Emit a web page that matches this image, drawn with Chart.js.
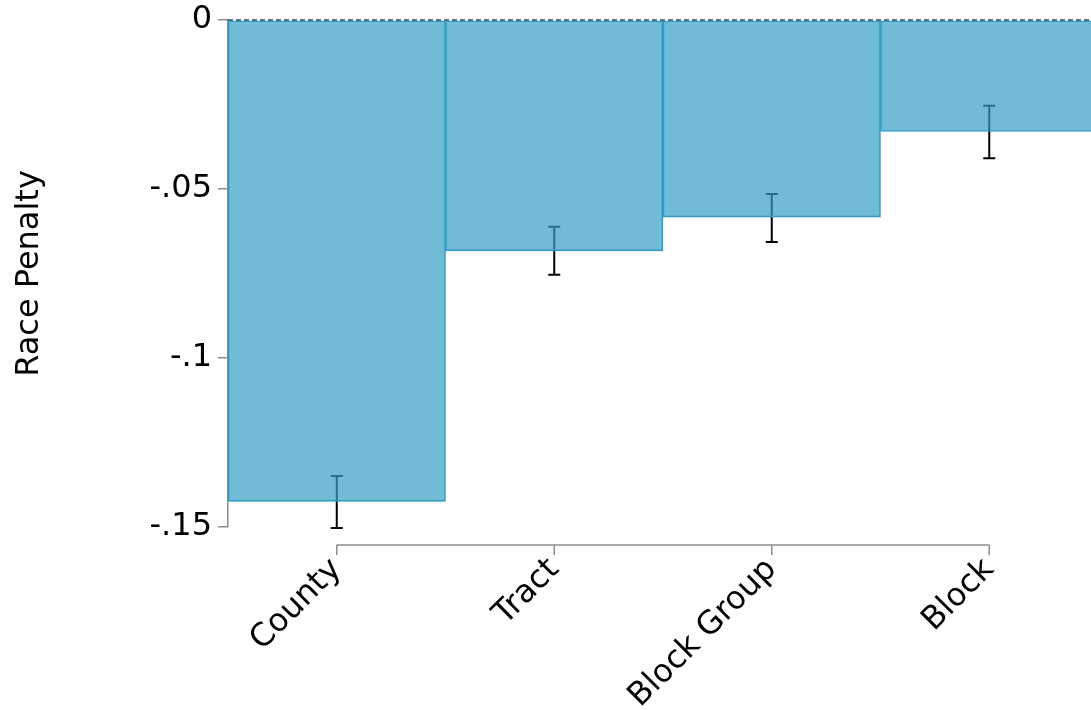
<!DOCTYPE html>
<html>
<head>
<meta charset="utf-8">
<script src="https://cdn.jsdelivr.net/npm/chart.js@4/dist/chart.umd.min.js"></script>
<style>
html,body{margin:0;padding:0;overflow:hidden;background:#fff;}
#wrap{width:1098px;height:710px;position:relative;}
</style>
</head>
<body>
<div id="wrap"><canvas id="c"></canvas></div>
<script>
const categories = ['County', 'Tract', 'Block Group', 'Block'];
const penalty = [-0.1424, -0.0683, -0.0583, -0.0330];
const ciLow = [-0.1503, -0.0754, -0.0657, -0.0409];
const ciHigh = [-0.1349, -0.0612, -0.0515, -0.0254];
const yTicks = [0, -0.05, -0.1, -0.15];
const yTickLabels = ['0', '-.05', '-.1', '-.15'];

const FONT = "'DejaVu Sans', sans-serif";

const errorBars = {
  id: 'errorBars',
  beforeDatasetsDraw(chart) {
    const ctx = chart.ctx, y = chart.scales.y, x = chart.scales.x;
    ctx.save();
    ctx.strokeStyle = '#000';
    ctx.lineWidth = 2;
    for (let i = 0; i < categories.length; i++) {
      const px = x.getPixelForValue(i);
      const y1 = y.getPixelForValue(ciHigh[i]);
      const y2 = y.getPixelForValue(ciLow[i]);
      ctx.beginPath();
      ctx.moveTo(px, y1); ctx.lineTo(px, y2);
      ctx.moveTo(px - 6, y1); ctx.lineTo(px + 6, y1);
      ctx.moveTo(px - 6, y2); ctx.lineTo(px + 6, y2);
      ctx.stroke();
    }
    ctx.restore();
  },
  afterDatasetsDraw(chart) {
    const ctx = chart.ctx, y = chart.scales.y, a = chart.chartArea;
    ctx.save();
    const y0 = y.getPixelForValue(0);
    ctx.strokeStyle = '#2f4f5f';
    ctx.lineWidth = 1.5;
    ctx.setLineDash([5, 3]);
    ctx.beginPath();
    ctx.moveTo(a.left, y0); ctx.lineTo(a.right, y0);
    ctx.stroke();
    ctx.restore();
  },
  afterDraw(chart) {
    const ctx = chart.ctx, x = chart.scales.x, a = chart.chartArea;
    ctx.save();
    ctx.strokeStyle = '#8c8c8c';
    ctx.lineWidth = 1.5;
    const ly = a.bottom + 18;
    const first = x.getPixelForValue(0), last = x.getPixelForValue(categories.length - 1);
    ctx.beginPath();
    ctx.moveTo(first, ly); ctx.lineTo(last, ly);
    for (let i = 0; i < categories.length; i++) {
      const px = x.getPixelForValue(i);
      ctx.moveTo(px, ly); ctx.lineTo(px, ly + 10);
    }
    ctx.stroke();
    ctx.restore();
  }
};

new Chart(document.getElementById('c'), {
  type: 'bar',
  data: {
    labels: categories,
    datasets: [{
      data: penalty,
      backgroundColor: 'rgba(54,158,196,0.7)',
      borderColor: 'rgb(38,156,196)',
      borderWidth: 1,
      borderSkipped: false,
      barPercentage: 1,
      categoryPercentage: 1
    }]
  },
  options: {
    responsive: true,
    maintainAspectRatio: false,
    animation: false,
    layout: { padding: { top: 20, right: 0, left: 10, bottom: 0 } },
    plugins: { legend: { display: false }, tooltip: { enabled: false } },
    scales: {
      x: {
        grid: { display: false },
        border: { display: false },
        ticks: {
          color: '#000',
          font: { family: FONT, size: 32 },
          minRotation: 45, maxRotation: 45,
          padding: 16
        },
        afterFit(s) { s.height = 183; s.paddingLeft = 0; s.paddingRight = 0; }
      },
      y: {
        min: -0.15, max: 0,
        afterBuildTicks(s) { s.ticks = yTicks.map(v => ({ value: v })); },
        grid: { drawOnChartArea: false, drawTicks: true, tickLength: 10, color: '#8c8c8c', lineWidth: 1.5 },
        border: { display: true, color: '#8c8c8c', width: 1.5 },
        ticks: {
          color: '#000',
          font: { family: FONT, size: 32 },
          padding: 6,
          callback(v) { const i = yTicks.findIndex(t => Math.abs(t - v) < 1e-9); return i >= 0 ? yTickLabels[i] : ''; }
        },
        title: {
          display: true, text: 'Race Penalty', color: '#000',
          font: { family: FONT, size: 32 }, padding: { top: 0, bottom: 0 }
        },
        afterFit(s) { s.width = 218; s.paddingTop = 0; s.paddingBottom = 0; }
      }
    }
  },
  plugins: [errorBars]
});
</script>
</body>
</html>
